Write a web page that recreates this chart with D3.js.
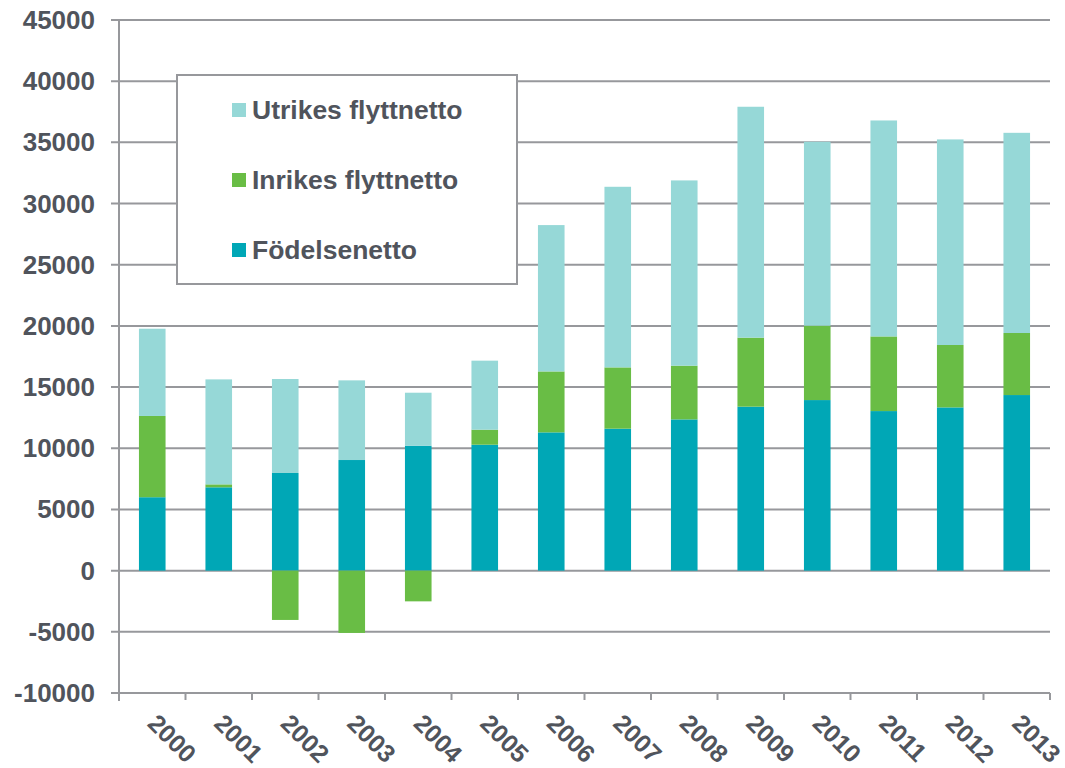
<!DOCTYPE html>
<html>
<head>
<meta charset="utf-8">
<script src="https://cdn.jsdelivr.net/npm/d3@7"></script>
<style>
  body { margin: 0; background: #fff; }
  text { font-family: "Liberation Sans", Arial, sans-serif; font-weight: bold; fill: #50545c; }
</style>
</head>
<body>
<svg id="chart" width="1065" height="768"></svg>
<script>
// data
const years = ["2000","2001","2002","2003","2004","2005","2006","2007","2008","2009","2010","2011","2012","2013"];
const fodelsenetto = [6000, 6810, 7980, 9040, 10210, 10290, 11300, 11600, 12360, 13400, 13940, 13040, 13340, 14350];
const inrikes = [6640, 240, -4030, -5090, -2510, 1230, 4980, 5010, 4390, 5640, 6080, 6100, 5100, 5070];
const utrikes = [7130, 8580, 7680, 6510, 4330, 5640, 11960, 14760, 15140, 18870, 15030, 17650, 16800, 16360];
const yTicks = [-10000, -5000, 0, 5000, 10000, 15000, 20000, 25000, 30000, 35000, 40000, 45000];

const seriesKeys = ["fodelse", "inrikes", "utrikes"];
const seriesNames = { utrikes: "Utrikes flyttnetto", inrikes: "Inrikes flyttnetto", fodelse: "Födelsenetto" };
const colors = { fodelse: "#00a7b6", inrikes: "#69bd45", utrikes: "#96d8d7" };
const gridColor = "#97989c";

const rows = years.map((y, i) => ({ year: y, fodelse: fodelsenetto[i], inrikes: inrikes[i], utrikes: utrikes[i] }));

const svg = d3.select("#chart");
const plotLeft = 119, plotRight = 1050, plotTop = 20, plotBottom = 693;

const x = d3.scaleBand().domain(years).range([plotLeft, plotRight]).paddingInner(0.6).paddingOuter(0.3);
const y = d3.scaleLinear().domain([-10000, 45000]).range([plotBottom, plotTop]);

// gridlines
svg.append("g")
  .selectAll("line")
  .data(yTicks)
  .join("line")
  .attr("x1", plotLeft - 8)
  .attr("x2", plotRight)
  .attr("y1", (d) => y(d))
  .attr("y2", (d) => y(d))
  .attr("stroke", gridColor)
  .attr("stroke-width", 2);

// stacked bars, negatives stacked below zero
const stack = d3.stack().keys(seriesKeys).offset(d3.stackOffsetDiverging);
const layers = stack(rows);

svg.append("g")
  .selectAll("g")
  .data(layers)
  .join("g")
  .attr("fill", (d) => colors[d.key])
  .selectAll("rect")
  .data((d) => d)
  .join("rect")
  .attr("x", (d) => x(d.data.year))
  .attr("width", x.bandwidth())
  .attr("y", (d) => y(Math.max(d[0], d[1])))
  .attr("height", (d) => Math.abs(y(d[0]) - y(d[1])));

// y axis line
svg.append("line")
  .attr("x1", plotLeft).attr("x2", plotLeft)
  .attr("y1", plotTop).attr("y2", plotBottom + 8)
  .attr("stroke", gridColor).attr("stroke-width", 2);

// x axis ticks at category boundaries
const step = (plotRight - plotLeft) / years.length;
svg.append("g")
  .selectAll("line")
  .data(d3.range(years.length + 1))
  .join("line")
  .attr("x1", (i) => plotLeft + i * step)
  .attr("x2", (i) => plotLeft + i * step)
  .attr("y1", plotBottom)
  .attr("y2", plotBottom + 7)
  .attr("stroke", gridColor)
  .attr("stroke-width", 2);

// y tick labels
svg.append("g")
  .selectAll("text")
  .data(yTicks)
  .join("text")
  .attr("x", 95)
  .attr("y", (d) => y(d) + 9)
  .attr("text-anchor", "end")
  .attr("font-size", 26)
  .text((d) => d);

// x tick labels, rotated
svg.append("g")
  .selectAll("text")
  .data(years)
  .join("text")
  .attr("transform", (d) => `translate(${x(d) + x.bandwidth() / 2 - 6},${725}) rotate(45)`)
  .attr("font-size", 25)
  .text((d) => d);

// legend
const legend = svg.append("g");
legend.append("rect")
  .attr("x", 177).attr("y", 75)
  .attr("width", 340).attr("height", 209)
  .attr("fill", "#fff")
  .attr("stroke", gridColor)
  .attr("stroke-width", 2);

const legendOrder = ["utrikes", "inrikes", "fodelse"];
const item = legend.selectAll("g.item")
  .data(legendOrder)
  .join("g")
  .attr("class", "item")
  .attr("transform", (d, i) => `translate(232,${103 + i * 70})`);
item.append("rect")
  .attr("width", 14).attr("height", 14)
  .attr("fill", (d) => colors[d]);
item.append("text")
  .attr("x", 20)
  .attr("y", 16)
  .attr("font-size", 26.5)
  .text((d) => seriesNames[d]);
</script>
</body>
</html>
